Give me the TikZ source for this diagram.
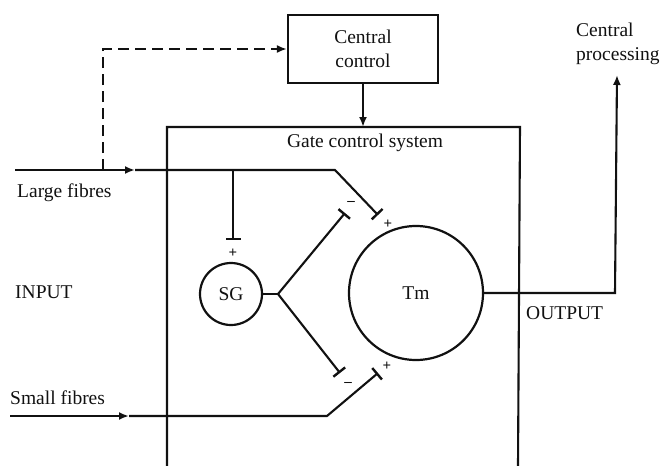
\documentclass[tikz,border=0pt]{standalone}
\usepackage{fontspec}
\setmainfont{Liberation Serif}
\usepackage{tikz}
\usetikzlibrary{arrows.meta,positioning}
\definecolor{cink}{HTML}{111111}
\tikzset{
  lbl/.style={font=\fontsize{19.5}{23}\selectfont,text=cink,inner sep=0pt},
  sgn/.style={font=\fontsize{15}{15}\selectfont\bfseries,text=cink,inner sep=0pt},
  box/.style={draw=cink,line width=2.2pt,minimum width=150pt,minimum height=68pt,align=center,lbl},
  cell/.style={circle,draw=cink,line width=2.2pt,inner sep=0pt,lbl},
  fibre/.style={draw=cink,line width=2.1pt},
  tbar/.style={fibre,-{Bar[width=15pt,line width=2.4pt]}},
  tip/.style={fibre,-{Latex[length=10pt,width=8pt]}},
}

\begin{document}
\begin{tikzpicture}[x=1pt,y=-1pt]
\useasboundingbox (0,0) rectangle (662,466);

% ================= central control and gate box =================
\node[box] (cc) at (363,49) {Central\\[1pt]control};
\coordinate (gtop) at (363,127);
\draw[fibre] (167,466) |- (520,127) -- (518,466);
\node[lbl] (gl) at (365,143) {Gate control system};
\draw[tip] (cc.south) -- (gtop);

% ================= cells =================
\node[cell,minimum size=62pt] (sg) at (231,294) {SG};
\node[cell,minimum size=134pt] (tm) at (416,293) {Tm};

% ================= fibres =================
\coordinate (lf0) at (15,170);
\coordinate (lfa) at (135,170);
\coordinate (lfk) at (335,170);
\coordinate (lfT) at (378,215);
\coordinate (sgb) at (233,170);
\coordinate (sgT) at (233,240);
\coordinate (dsh) at (103,170);
\draw[tip] (lf0) -- (lfa);
\draw[tbar] (lfa) -- (lfk) -- (lfT);
\draw[tbar] (sgb) -- (sgT);
\draw[tip,dashed,dash pattern=on 11pt off 6pt] (dsh) |- (cc.west);

\coordinate (sf0) at (10,416);
\coordinate (sfa) at (129,416);
\coordinate (sfk) at (327,416);
\coordinate (sfT) at (378,373);
\draw[tip] (sf0) -- (sfa);
\draw[tbar] (sfa) -- (sfk) -- (sfT);

% SG output splits to Tm terminals
\coordinate (jn) at (278,294);
\coordinate (upT) at (345,213);
\coordinate (dnT) at (340,373);
\draw[fibre] (sg.east) -- (jn);
\draw[tbar] (jn) -- (upT);
\draw[tbar] (jn) -- (dnT);

% signs
\node[sgn] at (233,253) {+};
\node[sgn] at (388,224) {+};
\node[sgn] at (387,366) {+};
\node[sgn] at (351,203) {--};
\node[sgn] at (348,384) {--};

% ================= output =================
\coordinate (ok) at (615,293);
\coordinate (cp) at (617,75);
\draw[tip] (tm.east) -- (ok) -- (cp);

% ================= labels =================
\node[lbl,anchor=west] (lfl) at (17,193) {Large fibres};
\node[lbl,anchor=west] (inl) at (15,292) {INPUT};
\node[lbl,anchor=west] (sfl) at (10,398) {Small fibres};
\node[lbl,anchor=west] (outl) at (526,313) {OUTPUT};
\node[lbl,anchor=west,align=left] (cpl) at (576,44) {Central\\[1pt]processing};

\end{tikzpicture}
\end{document}
